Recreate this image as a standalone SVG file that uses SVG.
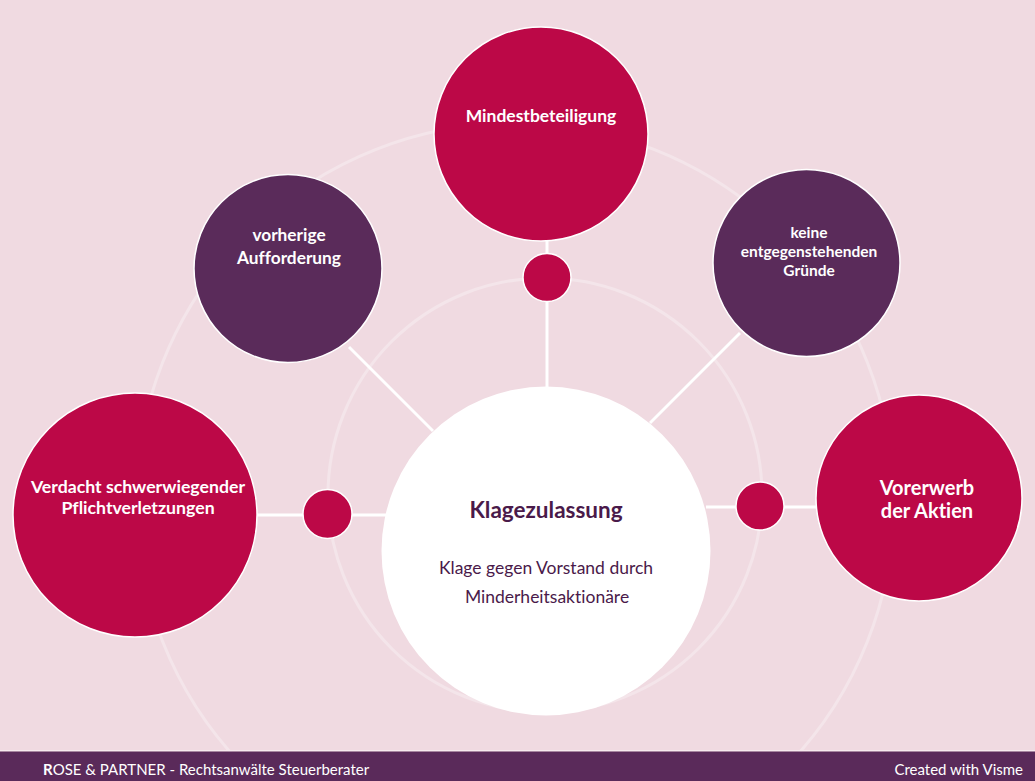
<svg xmlns="http://www.w3.org/2000/svg" width="1035" height="781" viewBox="0 0 1035 781">
<style>
.bg{fill:#f0dae1}
.faint{fill:none;stroke:#f4e5ea;stroke-width:3}
.conn{stroke:#ffffff;stroke-width:3;fill:none}
.red{fill:#bc0847;stroke:#ffffff;stroke-width:1.5}
.pur{fill:#5a2b5a;stroke:#ffffff;stroke-width:1.5}
text{font-variant-ligatures:none}
.t{font-family:Lato,"Liberation Sans",sans-serif;fill:#ffffff;text-anchor:middle;font-weight:bold}
.c{font-family:Lato,"Liberation Sans",sans-serif;fill:#4a1a4a;text-anchor:middle}
.f{font-family:Lato,"Liberation Sans",sans-serif;fill:#ffffff;font-size:15px}
</style>
<rect class="bg" x="0" y="0" width="1035" height="781"/>
<g id="rings">
<circle class="faint" cx="515" cy="502" r="379"/>
<circle class="faint" cx="545" cy="495" r="217"/>
</g>
<g id="connectors">
<line class="conn" x1="547" y1="240" x2="547" y2="390"/>
<line class="conn" x1="349" y1="347" x2="433" y2="431"/>
<line class="conn" x1="740" y1="333" x2="650" y2="423"/>
<line class="conn" x1="255" y1="515" x2="386" y2="515"/>
<line class="conn" x1="706" y1="507" x2="818" y2="507"/>
</g>
<g id="center">
<circle cx="546" cy="551" r="164.5" fill="#ffffff"/>
<text class="c" x="546" y="518" font-size="22.5" font-weight="bold">Klagezulassung</text>
<text class="c" x="546" y="574" font-size="17.5">Klage gegen Vorstand durch</text>
<text class="c" x="547" y="603" font-size="17.5">Minderheitsaktionäre</text>
</g>
<g id="n-mindest">
<circle class="red" cx="541" cy="134" r="107"/>
<text class="t" x="541" y="122" font-size="17.5">Mindestbeteiligung</text>
</g>
<g id="dot-top"><circle class="red" cx="547" cy="277.5" r="24"/></g>
<g id="n-vorherige">
<circle class="pur" cx="288" cy="268.5" r="94"/>
<text class="t" x="289" y="241" font-size="17.3">vorherige</text>
<text class="t" x="289" y="264" font-size="17.3">Aufforderung</text>
</g>
<g id="n-keine">
<circle class="pur" cx="806.5" cy="263" r="93.5"/>
<text class="t" x="809" y="238" font-size="15.5">keine</text>
<text class="t" x="809" y="257" font-size="15.5">entgegenstehenden</text>
<text class="t" x="809" y="276" font-size="15.5">Gründe</text>
</g>
<g id="n-verdacht">
<circle class="red" cx="135" cy="515" r="122"/>
<text class="t" x="138" y="493" font-size="17.7">Verdacht schwerwiegender</text>
<text class="t" x="138" y="514" font-size="17.7">Pflichtverletzungen</text>
</g>
<g id="dot-left"><circle class="red" cx="327.5" cy="514" r="24.5"/></g>
<g id="n-vorerwerb">
<circle class="red" cx="919" cy="498" r="103"/>
<text class="t" x="927" y="495" font-size="20">Vorerwerb</text>
<text class="t" x="927" y="518" font-size="20">der Aktien</text>
</g>
<g id="dot-right"><circle class="red" cx="760" cy="506" r="24"/></g>
<g id="footer">
<rect x="0" y="750" width="1035" height="1.5" fill="#f7eaee"/>
<rect x="0" y="751.5" width="1035" height="29.5" fill="#5a2a5a"/>
<text class="f" x="43" y="775"><tspan font-weight="bold">R</tspan>OSE &amp; PARTNER - Rechtsanwälte Steuerberater</text>
<text class="f" x="1023" y="775" text-anchor="end">Created with Visme</text>
</g>
</svg>
